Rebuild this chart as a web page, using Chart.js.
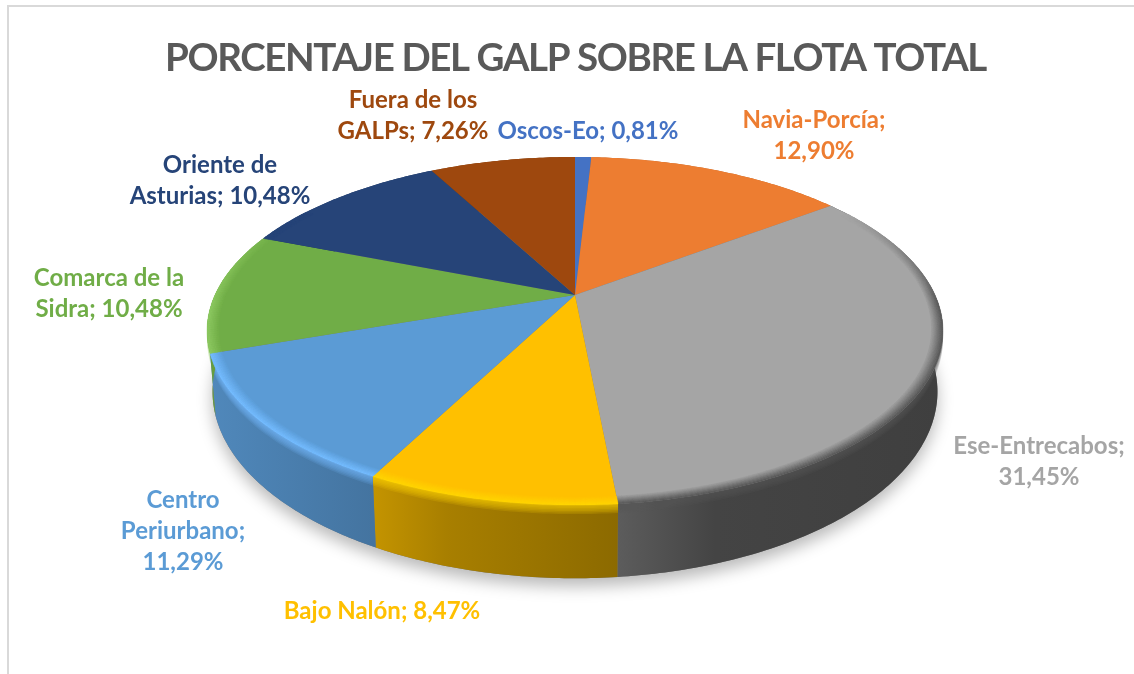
<!DOCTYPE html>
<html lang="es">
<head>
<meta charset="utf-8">
<title>Porcentaje del GALP sobre la flota total</title>
<script src="https://cdn.jsdelivr.net/npm/chart.js@4"></script>
<style>
  html, body { margin: 0; padding: 0; background: #fff; overflow: hidden; }
  #marco { position: absolute; left: 7px; top: 5px; right: 0; bottom: 0; border-left: 2px solid #d9d9d9; border-top: 2px solid #d9d9d9; }
  #grafico { position: absolute; left: 0; top: 0; }
</style>
</head>
<body>
<div id="marco"></div>
<canvas id="grafico" width="1134" height="674"></canvas>
<script>
const categorias = ['Oscos-Eo', 'Navia-Porcía', 'Ese-Entrecabos', 'Bajo Nalón', 'Centro Periurbano', 'Comarca de la Sidra', 'Oriente de Asturias', 'Fuera de los GALPs'];
const valores = [0.81, 12.90, 31.45, 8.47, 11.29, 10.48, 10.48, 7.26];
const colores = ['#4472c4', '#ed7d31', '#a5a5a5', '#ffc000', '#5b9bd5', '#70ad47', '#264478', '#9e480e'];
const titulo = 'PORCENTAJE DEL GALP SOBRE LA FLOTA TOTAL';

// Color del borde biselado y sombreado de la pared (inicio, medio, fin)
const coloresBisel = ['#4472c4', '#ed7d31', '#585858', '#ffd500', '#74bcff', '#8cc860', '#264478', '#9e480e'];
const sombrasPared = [[.8, .8, .8], [.8, .8, .8], [.56, .41, .38], [.77, .66, .55], [.88, .84, .75], [.9, .9, .9], [.8, .8, .8], [.8, .8, .8]];

// Sitio de cada etiqueta: centro x, y de la primera linea, limite de caracteres por linea
const etiquetas = [
  { x: 588, y: 131, limite: 99 },
  { x: 814, y: 120, limite: 13 },
  { x: 1039, y: 446, limite: 15 },
  { x: 382, y: 611, limite: 99 },
  { x: 183, y: 500, limite: 11 },
  { x: 109, y: 278, limite: 14 },
  { x: 220, y: 165, limite: 16 },
  { x: 413, y: 100, limite: 12 }
];
const altoLinea = 31;

// Proyeccion en perspectiva del plano de la tarta
const CX = 575, CY = 295, A = 360, B = 166.6, K = 0.207, PROF = 58, ENCOGE = 0.985;

let puntoCara = (theta, r) => {
  let w = 1 + K * r * Math.cos(theta);
  return [CX + A * r * Math.sin(theta) / w, CY - B * r * Math.cos(theta) / w];
};

let puntoBase = (theta) => {
  let w = 1 + K * Math.cos(theta);
  return [CX + ENCOGE * A * Math.sin(theta) / w, CY + (PROF - B * Math.cos(theta)) / w];
};

let angulos = (inicio, fin) => {
  let lista = [];
  let pasos = Math.max(2, Math.ceil((fin - inicio) / 0.012));
  for (let i = 0; i <= pasos; i++) lista.push(inicio + (fin - inicio) * i / pasos);
  return lista;
};

let aRgb = (hex) => [1, 3, 5].map(i => parseInt(hex.slice(i, i + 2), 16));
let mezcla = (a, b, t) => {
  let ca = aRgb(a), cb = aRgb(b);
  return `rgb(${ca.map((v, i) => Math.round(v + (cb[i] - v) * t)).join(',')})`;
};
let sombra = (hex, f) => `rgb(${aRgb(hex).map(v => Math.round(v * f)).join(',')})`;

let trazar = (ctx, puntos) => {
  ctx.beginPath();
  puntos.forEach((p, i) => i ? ctx.lineTo(p[0], p[1]) : ctx.moveTo(p[0], p[1]));
  ctx.closePath();
};

// Convierte el angulo de Chart.js (0 a la derecha) a angulo desde arriba
const giro = Math.PI / 2;

let tarta3d = {
  id: 'tarta3d',
  beforeDraw(chart) {
    // el titulo va algo mas apretado que Lato
    chart.ctx.letterSpacing = '-1.4px';
  },
  beforeDatasetDraw(chart, args) {
    let ctx = chart.ctx;
    let arcos = chart.getDatasetMeta(args.index).data;
    ctx.letterSpacing = '0px';
    ctx.save();

    // sombra difusa bajo la tarta
    ctx.save();
    ctx.shadowColor = 'rgba(0,0,0,0.28)';
    ctx.shadowBlur = 16;
    ctx.shadowOffsetY = 8;
    ctx.fillStyle = '#777';
    trazar(ctx, angulos(0, Math.PI * 2).map(t => puntoBase(t)));
    ctx.fill();
    ctx.restore();

    // paredes
    arcos.forEach((arco, i) => {
      let ini = arco.startAngle + giro, fin = arco.endAngle + giro;
      let muestras = angulos(ini, fin);
      let arriba = muestras.map(t => puntoCara(t, 1));
      let abajo = muestras.map(t => puntoBase(t)).reverse();
      let xs = arriba.map(p => p[0]);
      let x0 = Math.min(...xs), x1 = Math.max(...xs);
      let grad = ctx.createLinearGradient(x0, 0, x1, 0);
      let base = arco.options.backgroundColor;
      grad.addColorStop(0, sombra(base, sombrasPared[i][0]));
      grad.addColorStop(0.3, sombra(base, sombrasPared[i][1]));
      grad.addColorStop(1, sombra(base, sombrasPared[i][2]));
      ctx.fillStyle = grad;
      trazar(ctx, arriba.concat(abajo));
      ctx.fill();

      // paso suave del bisel a la pared
      let frente = muestras.filter(t => Math.cos(t) < 0.15);
      if (frente.length < 2) return;
      let rim = aRgb(coloresBisel[i]);
      let capas = 6;
      for (let n = 0; n < capas; n++) {
        let alto = 9 * (n + 1) / capas;
        let sup = frente.map(t => puntoCara(t, 1));
        let inf = sup.map(p => [p[0], p[1] + alto]).reverse();
        ctx.fillStyle = `rgba(${rim.join(',')},0.16)`;
        trazar(ctx, sup.concat(inf));
        ctx.fill();
      }
    });

    // cara superior
    arcos.forEach((arco) => {
      let ini = arco.startAngle + giro, fin = arco.endAngle + giro;
      ctx.fillStyle = arco.options.backgroundColor;
      trazar(ctx, [[CX, CY]].concat(angulos(ini, fin).map(t => puntoCara(t, 1))));
      ctx.fill();
    });

    // bisel del borde
    let niveles = 8, ancho = 0.03;
    arcos.forEach((arco, i) => {
      let ini = arco.startAngle + giro, fin = arco.endAngle + giro;
      let muestras = angulos(ini, fin);
      let base = arco.options.backgroundColor;
      for (let s = 0; s < muestras.length - 1; s++) {
        let t0 = muestras[s], t1 = muestras[s + 1];
        let peso = Math.min(1, Math.max(0, (0.55 - Math.cos(t0)) / 0.6));
        if (peso === 0) continue;
        for (let n = 0; n < niveles; n++) {
          let r0 = 1 - ancho * (1 - n / niveles), r1 = 1 - ancho * (1 - (n + 1) / niveles);
          let color = mezcla(base, coloresBisel[i], peso * (n + 1) / niveles);
          ctx.fillStyle = color;
          ctx.strokeStyle = color;
          ctx.lineWidth = 0.4;
          trazar(ctx, [puntoCara(t0, r0), puntoCara(t1, r0), puntoCara(t1, r1), puntoCara(t0, r1)]);
          ctx.fill();
          ctx.stroke();
        }
      }
    });

    ctx.restore();
    return false;
  },
  afterDatasetsDraw(chart) {
    let ctx = chart.ctx;
    ctx.save();
    ctx.font = 'bold 24px Lato';
    ctx.textAlign = 'center';
    ctx.textBaseline = 'middle';
    categorias.forEach((nombre, i) => {
      let texto = `${nombre}; ${valores[i].toFixed(2).replace('.', ',')}%`;
      let pos = etiquetas[i];
      let lineas = [], actual = '';
      texto.split(' ').forEach(palabra => {
        let prueba = actual ? actual + ' ' + palabra : palabra;
        if (prueba.length > pos.limite && actual) {
          lineas.push(actual);
          actual = palabra;
        } else {
          actual = prueba;
        }
      });
      lineas.push(actual);
      ctx.fillStyle = colores[i];
      lineas.forEach((l, n) => ctx.fillText(l, pos.x, pos.y + n * altoLinea));
    });
    ctx.restore();
  }
};

new Chart(document.getElementById('grafico'), {
  type: 'pie',
  data: {
    labels: categorias,
    datasets: [{ data: valores, backgroundColor: colores, borderWidth: 0 }]
  },
  options: {
    responsive: false,
    animation: false,
    events: [],
    layout: { padding: { left: 17 } },
    plugins: {
      legend: { display: false },
      tooltip: { enabled: false },
      title: {
        display: true,
        text: titulo,
        color: '#595959',
        font: { family: 'Lato', size: 38.5, weight: 'bold' },
        padding: { top: 35, bottom: 10 }
      }
    }
  },
  plugins: [tarta3d]
});
</script>
</body>
</html>
